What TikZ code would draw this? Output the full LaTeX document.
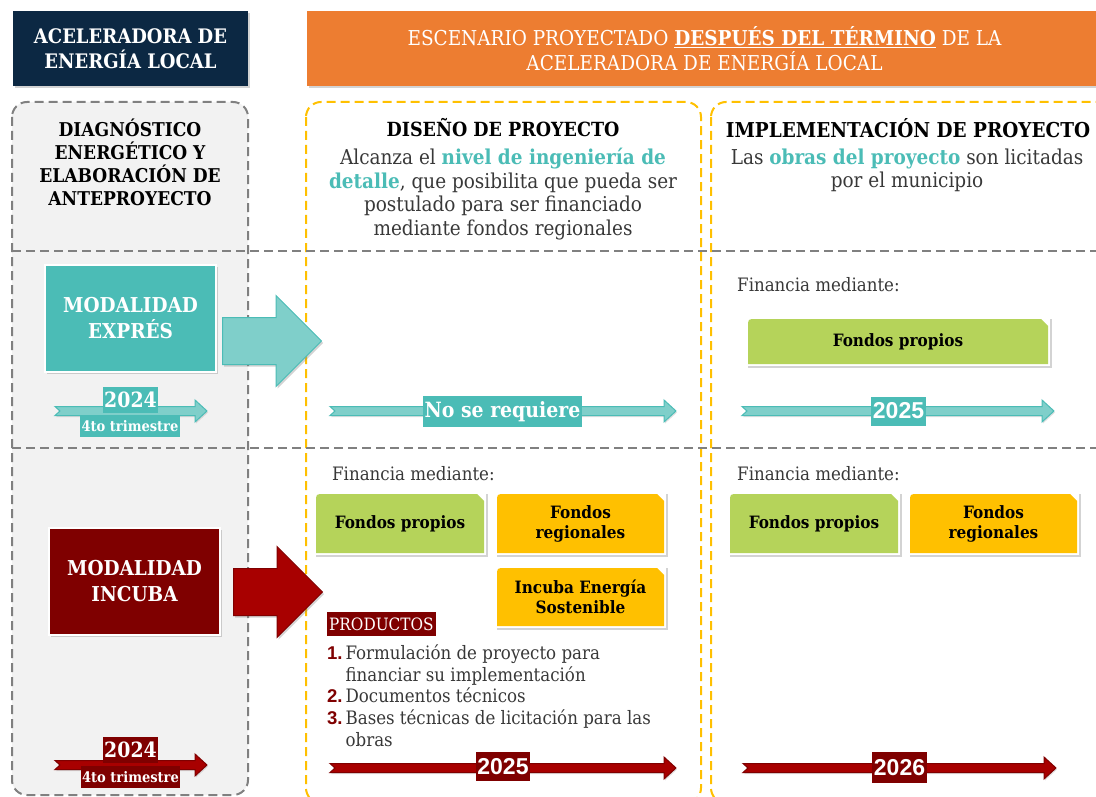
\documentclass[tikz,border=0pt]{standalone}
\usepackage{fontspec}
\setmainfont{DejaVu Serif Condensed}
\newfontfamily\yearfont{Liberation Sans}
\usetikzlibrary{shapes.arrows,shadows,positioning}

\definecolor{navy}{HTML}{0C2843}
\definecolor{orng}{HTML}{ED7D31}
\definecolor{teal}{HTML}{4BBCB6}
\definecolor{lteal}{HTML}{7FCFCA}
\definecolor{dred}{HTML}{7F0000}
\definecolor{arred}{HTML}{A80000}
\definecolor{fgreen}{HTML}{B5D35A}
\definecolor{fyellow}{HTML}{FFC000}
\definecolor{boxgray}{HTML}{F2F2F2}
\definecolor{dashgray}{HTML}{808080}
\definecolor{txtgray}{HTML}{383838}

% timeline band: x1, x2, y, fill, border
\newcommand{\tline}[5]{%
  \filldraw[fill=#4, draw=#5, line width=1pt, drop shadow={opacity=.25,shadow xshift=1pt,shadow yshift=-1.5pt}]
    (#1,#3-4.5) -- (#2-12,#3-4.5) -- (#2-12,#3-11) -- (#2,#3) -- (#2-12,#3+11)
    -- (#2-12,#3+4.5) -- (#1,#3+4.5) -- (#1+5,#3) -- cycle;}

\begin{document}
\begin{tikzpicture}[x=1pt,y=-1pt,
  shd/.style={drop shadow={opacity=.35,shadow xshift=1.5pt,shadow yshift=-2pt}},
  hdr/.style={shd, text=white, align=center, minimum height=75pt},
  ttl/.style={font=\bfseries\fontsize{19.5}{23}\selectfont, align=center, text=black},
  desc/.style={font=\fontsize{20.5}{23.5}\selectfont, align=center, text=txtgray},
  lbl/.style={font=\fontsize{18.5}{21}\selectfont, text=txtgray, anchor=west, inner sep=0pt},
  modbox/.style={shd, draw=white, line width=2pt, text=white, align=center,
    minimum width=171pt, minimum height=107pt, font=\bfseries\fontsize{20.5}{26}\selectfont},
  bigarrow/.style={single arrow, shd, line width=1pt, minimum width=91pt, anchor=tail,
    single arrow head extend=22pt, single arrow head indent=0pt, inner xsep=0pt, inner ysep=23pt},
  yr/.style={text=white, inner xsep=1.5pt, inner ysep=0pt, minimum height=29pt,
    font=\yearfont\bfseries\fontsize{23}{23}\selectfont},
  yrs/.style={text=white, inner xsep=1.5pt, inner ysep=0pt, minimum height=26pt,
    font=\bfseries\fontsize{21}{21}\selectfont},
  yrsub/.style={text=white, inner xsep=1.5pt, inner ysep=0pt, minimum height=22pt,
    font=\bfseries\fontsize{14.5}{15}\selectfont},
  fondo/.style={fill=white, shd, minimum width=172pt, minimum height=63pt, align=center,
    font=\bfseries\fontsize{17}{20}\selectfont, text=black,
    path picture={\fill[#1] ([xshift=2pt,yshift=2pt]path picture bounding box.south west)
      -- ([xshift=2pt,yshift=-10pt]path picture bounding box.north west)
      .. controls ([xshift=2pt,yshift=-2pt]path picture bounding box.north west)
      .. ([xshift=10pt,yshift=-2pt]path picture bounding box.north west)
      -- ([xshift=-9pt,yshift=-2pt]path picture bounding box.north east)
      -- ([xshift=-2pt,yshift=-9pt]path picture bounding box.north east)
      -- ([xshift=-2pt,yshift=2pt]path picture bounding box.south east) -- cycle;}},
  dashg/.style={draw=dashgray, line width=2pt, dash pattern=on 9pt off 5pt},
  dashy/.style={draw=fyellow, line width=2pt, dash pattern=on 9pt off 5pt}]
  \useasboundingbox (0,0) rectangle (1096,797);

  % columns
  \draw[dashg, fill=boxgray, rounded corners=15pt] (12,102) rectangle (248,795);
  \draw[dashy, rounded corners=15pt] (306,102) rectangle (701,803);
  \draw[dashy, rounded corners=15pt] (711,102) rectangle (1120,803);
  \draw[dashg] (12,251) -- (1096,251);
  \draw[dashg] (12,448) -- (1096,448);

  % headers
  \node[hdr, fill=navy, minimum width=235pt, font=\bfseries\fontsize{20}{25}\selectfont] (acel) at (130.5,48.5) {ACELERADORA DE\\ENERGÍA LOCAL};
  \node[hdr, fill=orng, minimum width=795pt, font=\fontsize{20.5}{25}\selectfont] (escn) at (704.5,48.5)
    {ESCENARIO PROYECTADO \underline{\textbf{DESPUÉS DEL TÉRMINO}} DE LA\\ACELERADORA DE ENERGÍA LOCAL};

  \node[ttl, font=\bfseries\fontsize{19}{23}\selectfont] (diag) at (130,162) {DIAGNÓSTICO\\ENERGÉTICO Y\\ELABORACIÓN DE\\ANTEPROYECTO};
  \node[ttl] (dise) at (503,128) {DISEÑO DE PROYECTO};
  \node[desc] (disd) at (503,194) {Alcanza el \textcolor{teal}{\bfseries nivel de ingeniería de}\\\textcolor{teal}{\bfseries detalle}, que posibilita que pueda ser\\postulado para ser financiado\\mediante fondos regionales};
  \node[ttl, font=\bfseries\fontsize{20.5}{23}\selectfont] (impl) at (908,128) {IMPLEMENTACIÓN DE PROYECTO};
  \node[desc] (impd) at (907,170.5) {Las \textcolor{teal}{\bfseries obras del proyecto} son licitadas\\por el municipio};

  % modalidad expres
  \node[modbox, fill=teal] (expr) at (130.5,318.5) {MODALIDAD\\EXPRÉS};
  \node[bigarrow, fill=lteal, draw=teal, minimum height=99pt] (arrE) at (222,341) {};
  \tline{55}{207}{411}{lteal}{teal}
  \node[yrs, fill=teal] (y24a) at (130.5,400) {2024};
  \node[yrsub, fill=teal] (q4a) at (130,426) {4to trimestre};
  \tline{330}{676}{411}{lteal}{teal}
  \node[yrs, fill=teal, minimum height=31pt] (nosr) at (502.5,411.5) {No se requiere};
  \node[lbl] (fin1) at (737,285) {Financia mediante:};
  \node[fondo=fgreen, minimum width=304pt, minimum height=49pt] (fp1) at (898,341.5) {Fondos propios};
  \tline{742}{1054}{411}{lteal}{teal}
  \node[yr, fill=teal] (y25a) at (898.5,411) {2025};

  % modalidad incuba
  \node[modbox, fill=dred] (incu) at (134.5,581.5) {MODALIDAD\\INCUBA};
  \node[bigarrow, fill=arred, draw=dred, minimum height=89pt] (arrI) at (233,592) {};
  \tline{55}{207}{765}{arred}{dred}
  \node[yrs, fill=dred] (y24b) at (130.5,750) {2024};
  \node[yrsub, fill=dred] (q4b) at (130.5,777) {4to trimestre};
  \node[lbl] (fin2) at (332,474) {Financia mediante:};
  \node[fondo=fgreen] (fp2) at (400,523.5) {Fondos propios};
  \node[fondo=fyellow, minimum width=171pt] (fr2) at (580.5,523.5) {Fondos\\regionales};
  \node[fondo=fyellow, minimum width=171pt, minimum height=62pt] (ie2) at (580.5,597) {Incuba Energía\\Sostenible};
  \node[fill=dred, text=white, anchor=west, inner xsep=2pt, inner ysep=0pt, minimum height=24pt,
    font=\fontsize{17}{17}\selectfont] (prod) at (327,624) {PRODUCTOS};
  \node[anchor=north west, inner sep=0pt, text=txtgray, font=\fontsize{18.5}{21.7}\selectfont] (list) at (327,644)
    {\begin{tabular}{@{}l@{\hspace{3pt}}l@{}}
      \textcolor{dred}{\yearfont\bfseries 1.} & Formulación de proyecto para\\
       & financiar su implementación\\
      \textcolor{dred}{\yearfont\bfseries 2.} & Documentos técnicos\\
      \textcolor{dred}{\yearfont\bfseries 3.} & Bases técnicas de licitación para las\\
       & obras
    \end{tabular}};
  \tline{330}{676}{768}{arred}{dred}
  \node[yr, fill=dred] (y25b) at (503,766.5) {2025};
  \node[lbl] (fin3) at (737,474) {Financia mediante:};
  \node[fondo=fgreen] (fp3) at (814,523.5) {Fondos propios};
  \node[fondo=fyellow, minimum width=171pt] (fr3) at (993.5,523.5) {Fondos\\regionales};
  \tline{743}{1056}{768}{arred}{dred}
  \node[yr, fill=dred, minimum height=31pt] (y26) at (899.5,767.5) {2026};
\end{tikzpicture}
\end{document}
